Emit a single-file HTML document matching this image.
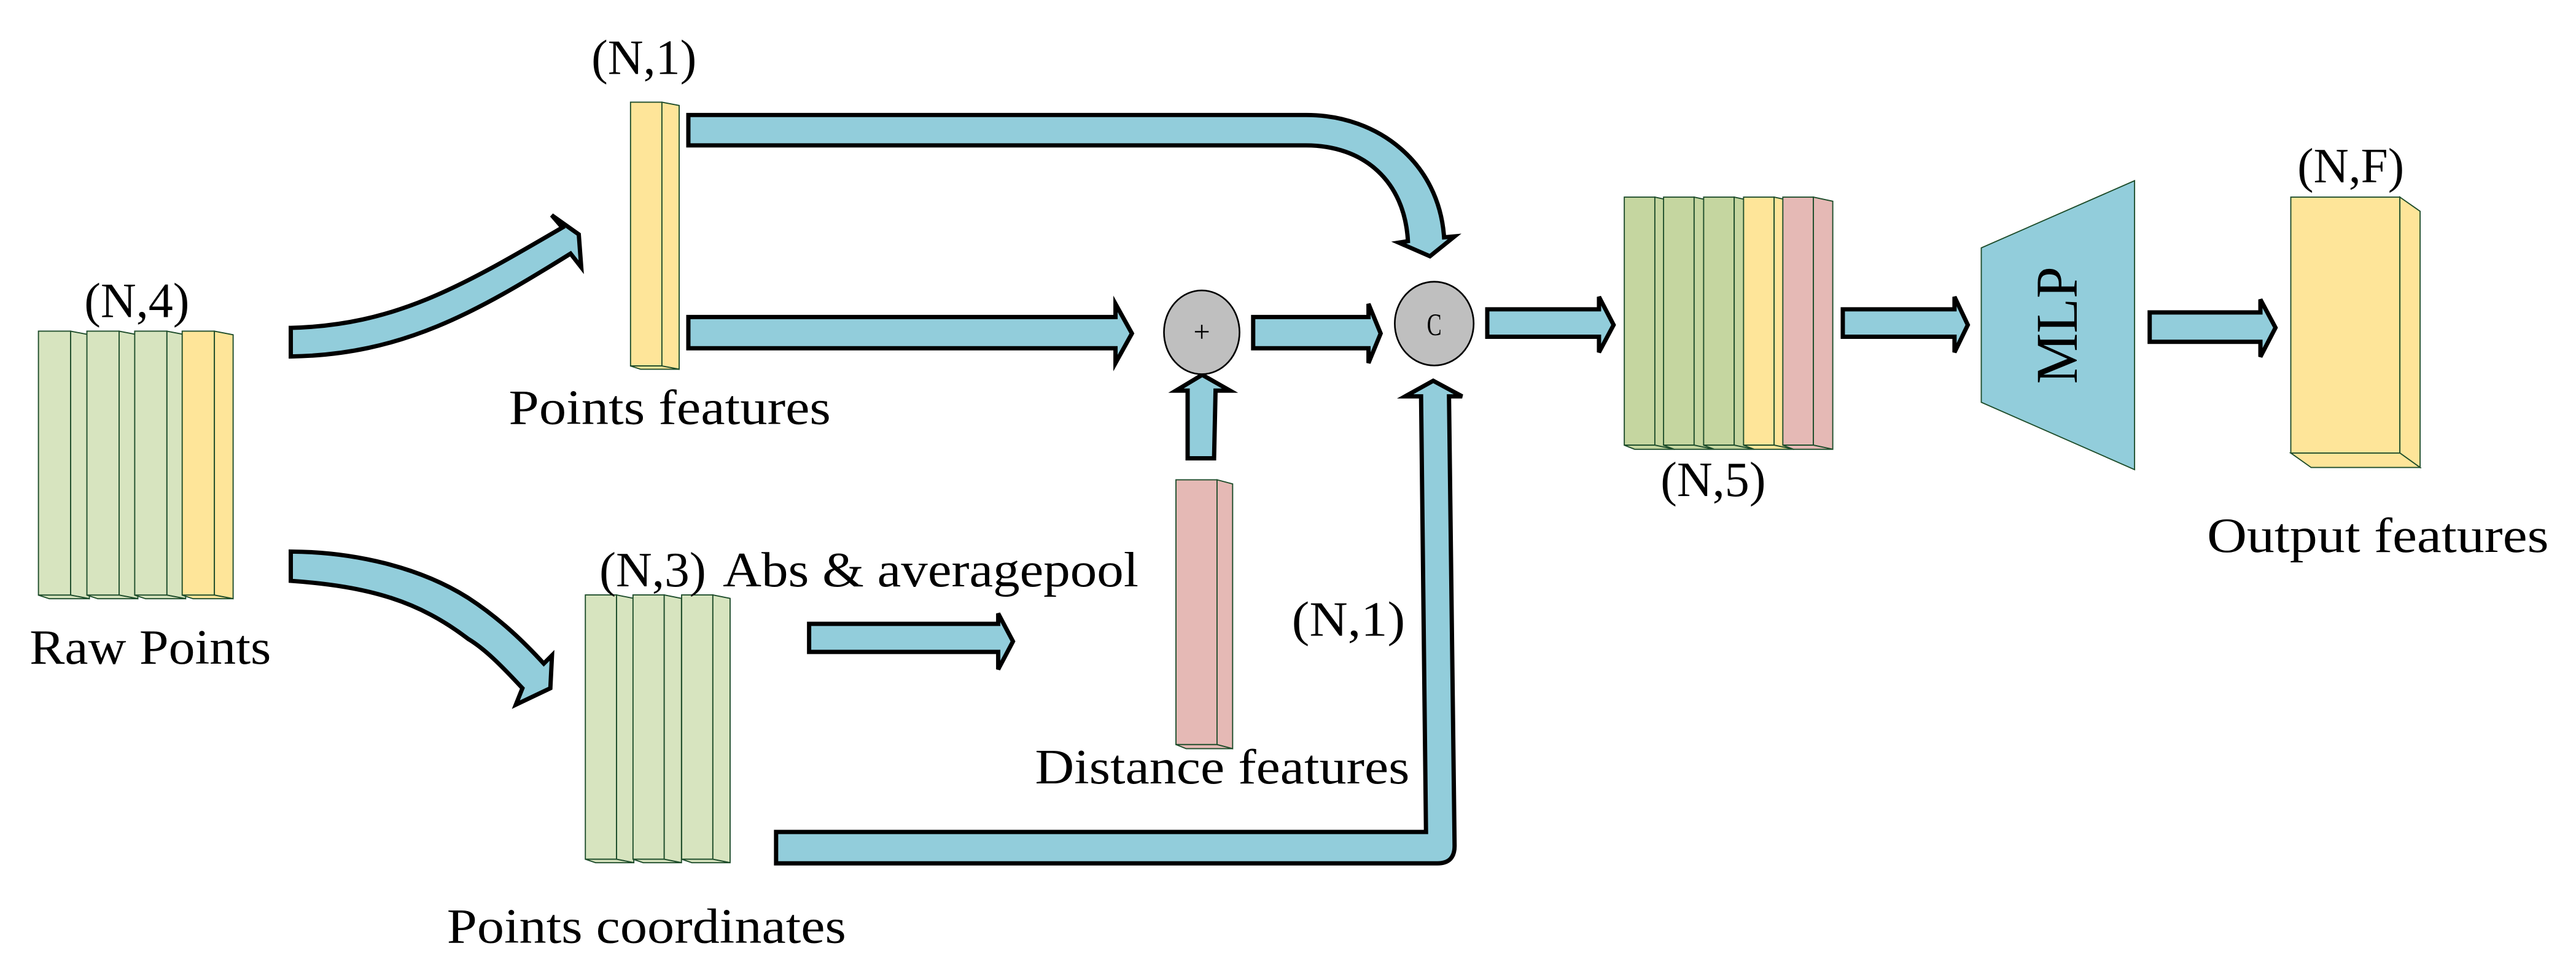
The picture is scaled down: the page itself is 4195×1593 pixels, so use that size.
<!DOCTYPE html>
<html><head><meta charset="utf-8"><style>html,body{margin:0;padding:0;background:#fff}svg{display:block}text{font-family:"Liberation Serif",serif;fill:#000}</style></head>
<body>
<svg width="4195" height="1593" viewBox="0 0 1568 595.4" xmlns="http://www.w3.org/2000/svg">
<rect width="1568" height="595.4" fill="#fff"/>
<g stroke="#000" stroke-width="2.6" stroke-linejoin="miter" fill="#92cddb">
<path d="M177,199.6 C240,198 280,175 342.3,138.5 L335.8,131 L352.3,142.7 L353.8,162.7 L347.3,154.4 C290,190 245,216 177,217 Z"/>
<path d="M177,335.8 C215,336 255,345 285,364 C305,377 320,392 331,404 L336,399 L335,419 L314,429 L318,419 C305,405 295,395 285,389 C255,366 225,357 177,353.6 Z"/>
<path d="M419,70 L795,70 C840,70 876,100 879,144.5 L885.4,143.9 L870.4,156 L851.4,147.7 L857,146.8 C855,110 830,88.5 795,88.5 L419,88.5 Z"/>
<path d="M419,193 L679,193 L679,185 L689,203 L679,221 L679,212 L419,212 Z"/>
<path d="M762.8,193 L833,193 L833,185 L840.4,203 L833,221 L833,212 L762.8,212 Z"/>
<path d="M905.3,188.3 L973.3,188.3 L973.3,180.7 L982.2,197.8 L973.3,214.5 L973.3,205 L905.3,205 Z"/>
<path d="M1121.7,188.3 L1189.7,188.3 L1189.7,180.7 L1197.8,197.8 L1189.7,214.5 L1189.7,205 L1121.7,205 Z"/>
<path d="M1308.5,190.2 L1375.9,190.2 L1375.9,182.3 L1385.1,199.5 L1375.9,217.2 L1375.9,208.1 L1308.5,208.1 Z"/>
<path d="M492.5,379.8 L607.6,379.8 L607.6,373.5 L616.6,390.5 L607.6,407.5 L607.6,396.9 L492.5,396.9 Z"/>
<path d="M722.9,279 L722.9,237.8 L715.8,237.8 L731.8,228.2 L748.7,237.8 L739.9,237.8 L739,279 Z"/>
<path d="M472.4,506.5 L868,506.5 L865,241.3 L855.3,241.3 L872.4,231.8 L890,241.3 L882,241.3 L885.4,515 Q885.4,525.6 875,525.6 L472.4,525.6 Z"/>
</g>
<ellipse cx="731.5" cy="202.3" rx="23" ry="25.5" fill="#bfbfbf" stroke="#000" stroke-width="1"/>
<text x="731.5" y="208" font-size="18" text-anchor="middle">+</text>
<ellipse cx="873" cy="197" rx="24" ry="25.5" fill="#bfbfbf" stroke="#000" stroke-width="1"/>
<text x="873" y="204" font-size="19" text-anchor="middle" textLength="9" lengthAdjust="spacingAndGlyphs">C</text>

<g stroke="#1e4d2b" stroke-width="0.7">
<g fill="#d7e4bf">
<rect x="23.4" y="201.6" width="19.6" height="160.7"/><polygon points="43,201.6 54.4,203.8 54.4,364.5 43,362.3"/><polygon points="23.4,362.3 43,362.3 54.4,364.5 30,364.5"/>
<rect x="52.9" y="201.6" width="19.6" height="160.7"/><polygon points="72.5,201.6 83.9,203.8 83.9,364.5 72.5,362.3"/><polygon points="52.9,362.3 72.5,362.3 83.9,364.5 59.5,364.5"/>
<rect x="82" y="201.6" width="19.6" height="160.7"/><polygon points="101.6,201.6 113,203.8 113,364.5 101.6,362.3"/><polygon points="82,362.3 101.6,362.3 113,364.5 88.6,364.5"/>
</g>
<g fill="#fee599">
<rect x="110.9" y="201.6" width="19.6" height="160.7"/><polygon points="130.5,201.6 141.9,203.8 141.9,364.5 130.5,362.3"/><polygon points="110.9,362.3 130.5,362.3 141.9,364.5 117.5,364.5"/>
<rect x="383.8" y="62.2" width="19.1" height="160.6"/><polygon points="402.9,62.2 413.4,64.2 413.4,224.8 402.9,222.8"/><polygon points="383.8,222.8 402.9,222.8 413.4,224.8 390,224.8"/>
</g>
<g fill="#d7e4bf">
<rect x="356.3" y="362.2" width="19" height="160.9"/><polygon points="375.3,362.2 385.8,364.3 385.8,525.2 375.3,523.1"/><polygon points="356.3,523.1 375.3,523.1 385.8,525.2 362.5,525.2"/>
<rect x="385.3" y="362.2" width="19" height="160.9"/><polygon points="404.3,362.2 414.8,364.3 414.8,525.2 404.3,523.1"/><polygon points="385.3,523.1 404.3,523.1 414.8,525.2 391.5,525.2"/>
<rect x="414.9" y="362.2" width="19" height="160.9"/><polygon points="433.9,362.2 444.4,364.3 444.4,525.2 433.9,523.1"/><polygon points="414.9,523.1 433.9,523.1 444.4,525.2 421.1,525.2"/>
</g>
<g fill="#e5b9b5">
<rect x="715.8" y="292.1" width="25" height="161.2"/><polygon points="740.8,292.1 750.3,294.6 750.3,455.8 740.8,453.3"/><polygon points="715.8,453.3 740.8,453.3 750.3,455.8 722,455.8"/>
</g>
<g fill="#c5d6a0">
<rect x="988.7" y="120" width="18.6" height="151"/><polygon points="1007.3,120 1019.1,122.5 1019.1,273.5 1007.3,271"/><polygon points="988.7,271 1007.3,271 1019.1,273.5 995,273.5"/>
<rect x="1012.6" y="120" width="18.6" height="151"/><polygon points="1031.2,120 1043,122.5 1043,273.5 1031.2,271"/><polygon points="1012.6,271 1031.2,271 1043,273.5 1019,273.5"/>
<rect x="1037" y="120" width="18.6" height="151"/><polygon points="1055.6,120 1067.4,122.5 1067.4,273.5 1055.6,271"/><polygon points="1037,271 1055.6,271 1067.4,273.5 1043.4,273.5"/>
</g>
<g fill="#fee599">
<rect x="1061.3" y="120" width="18.6" height="151"/><polygon points="1079.9,120 1091.7,122.5 1091.7,273.5 1079.9,271"/><polygon points="1061.3,271 1079.9,271 1091.7,273.5 1067.7,273.5"/>
</g>
<g fill="#e5b9b5">
<rect x="1085.2" y="120" width="18.6" height="151"/><polygon points="1103.8,120 1115.6,122.5 1115.6,273.5 1103.8,271"/><polygon points="1085.2,271 1103.8,271 1115.6,273.5 1091.6,273.5"/>
</g>
<g fill="#fee599">
<rect x="1394.4" y="120" width="66.4" height="155.8"/>
<polygon points="1460.8,120 1473.1,128.6 1473.1,284.6 1460.8,275.8"/>
<polygon points="1394.4,275.8 1460.8,275.8 1473.1,284.6 1406.8,284.6"/>
</g>
<polygon points="1206,150.9 1299.3,110 1299.3,285.9 1206,244.9" fill="#92cddb"/>
</g>
<text transform="translate(1252,198) rotate(-90)" font-size="36" text-anchor="middle" dominant-baseline="central" textLength="71.5" lengthAdjust="spacingAndGlyphs">MLP</text>

<g font-size="30">
<text x="51.3" y="193" textLength="64" lengthAdjust="spacingAndGlyphs">(N,4)</text>
<text x="18" y="404" textLength="147" lengthAdjust="spacingAndGlyphs">Raw Points</text>
<text x="360" y="45" textLength="64" lengthAdjust="spacingAndGlyphs">(N,1)</text>
<text x="309.7" y="258" textLength="196" lengthAdjust="spacingAndGlyphs">Points features</text>
<text x="364.8" y="357" textLength="65" lengthAdjust="spacingAndGlyphs">(N,3)</text>
<text x="440" y="357" textLength="253" lengthAdjust="spacingAndGlyphs">Abs &amp; averagepool</text>
<text x="786.3" y="387" textLength="69" lengthAdjust="spacingAndGlyphs">(N,1)</text>
<text x="630" y="477" textLength="228" lengthAdjust="spacingAndGlyphs">Distance features</text>
<text x="272" y="574" textLength="243" lengthAdjust="spacingAndGlyphs">Points coordinates</text>
<text x="1010.8" y="302" textLength="64" lengthAdjust="spacingAndGlyphs">(N,5)</text>
<text x="1398.4" y="111" textLength="65" lengthAdjust="spacingAndGlyphs">(N,F)</text>
<text x="1343.4" y="336" textLength="208" lengthAdjust="spacingAndGlyphs">Output features</text>
</g>
</svg>
</body></html>
